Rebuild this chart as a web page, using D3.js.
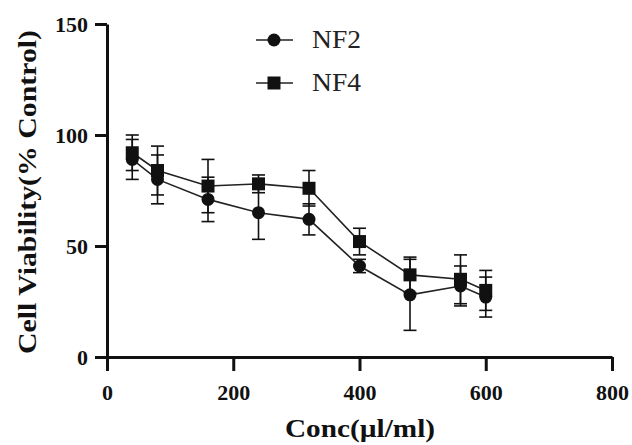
<!DOCTYPE html>
<meta charset="utf-8">
<script src="https://d3js.org/d3.v7.min.js"></script>
<style>
  body { margin: 0; background: #fff; }
  text { font-family: "Liberation Serif", "Times New Roman", serif; }
</style>
<div id="chart"></div>
<script>

// concentrations (µl/ml)
var conc = [40, 80, 160, 240, 320, 400, 480, 560, 600];

// mean viability and error (% control)
var nf2 = [89, 80, 71, 65, 62, 41, 28, 32, 27];
var nf2Err = [9, 11, 10, 12, 7, 3, 16, 9, 9];
var nf4 = [92, 84, 77, 78, 76, 52, 37, 35, 30];
var nf4Err = [8, 11, 12, 4, 8, 6, 8, 11, 9];

var seriesNames = ["NF2", "NF4"];
var xTicks = [0, 200, 400, 600, 800];
var yTicks = [0, 50, 100, 150];

var W = 632, H = 445;
var margin = {top: 24, right: 20, bottom: 88, left: 107};

var svg = d3.select("#chart")
  .append("svg")
    .attr("width", W)
    .attr("height", H);

var x = d3.scaleLinear()
  .domain([0, 800])
  .range([margin.left, 612]);

var y = d3.scaleLinear()
  .domain([0, 150])
  .range([357, margin.top]);

// axes
var xAxis = svg.append("g")
  .attr("transform", "translate(0," + y(0) + ")")
  .call(d3.axisBottom(x).tickValues(xTicks).tickSize(14).tickPadding(13).tickSizeOuter(0));

var yAxis = svg.append("g")
  .attr("transform", "translate(" + x(0) + ",0)")
  .call(d3.axisLeft(y).tickValues(yTicks).tickSize(12).tickPadding(7).tickSizeOuter(0));

[xAxis, yAxis].forEach(function(g) {
  g.select(".domain").attr("stroke", "#111").attr("stroke-width", 3);
  g.selectAll(".tick line").attr("stroke", "#111").attr("stroke-width", 3);
  g.selectAll(".tick text")
    .attr("fill", "#111")
    .style("font-size", "22px")
    .style("font-weight", "bold")
    .style("font-family", "'Liberation Serif', serif");
});

// axis titles
svg.append("text")
  .attr("x", 360)
  .attr("y", 437)
  .attr("text-anchor", "middle")
  .attr("fill", "#111")
  .attr("textLength", 150)
  .attr("lengthAdjust", "spacingAndGlyphs")
  .style("font-size", "25px")
  .style("font-weight", "bold")
  .text("Conc(\u00b5l/ml)");

svg.append("text")
  .attr("transform", "translate(36,192) rotate(-90)")
  .attr("text-anchor", "middle")
  .attr("fill", "#111")
  .attr("textLength", 324)
  .attr("lengthAdjust", "spacingAndGlyphs")
  .style("font-size", "26px")
  .style("font-weight", "bold")
  .text("Cell Viability(% Control)");

var series = [
  {name: seriesNames[0], mean: nf2, err: nf2Err, shape: "circle"},
  {name: seriesNames[1], mean: nf4, err: nf4Err, shape: "square"}
];

var line = d3.line()
  .x(function(d) { return x(d.c); })
  .y(function(d) { return y(d.v); });

function drawMarker(g, shape, cx, cy) {
  if (shape == "circle") {
    g.append("circle").attr("cx", cx).attr("cy", cy).attr("r", 6.5).attr("fill", "#111");
  } else {
    g.append("rect").attr("x", cx - 6.5).attr("y", cy - 6.5)
      .attr("width", 13).attr("height", 13).attr("fill", "#111");
  }
}

series.forEach(function(s) {
  var pts = conc.map(function(c, i) { return {c: c, v: s.mean[i], e: s.err[i]}; });
  var g = svg.append("g");

  // error bars
  pts.forEach(function(p) {
    var cx = x(p.c);
    g.append("line")
      .attr("x1", cx).attr("x2", cx)
      .attr("y1", y(p.v + p.e)).attr("y2", y(p.v - p.e))
      .attr("stroke", "#111").attr("stroke-width", 1.6);
    [p.v + p.e, p.v - p.e].forEach(function(v) {
      g.append("line")
        .attr("x1", cx - 6.5).attr("x2", cx + 6.5)
        .attr("y1", y(v)).attr("y2", y(v))
        .attr("stroke", "#111").attr("stroke-width", 1.6);
    });
  });

  g.append("path")
    .datum(pts)
    .attr("fill", "none")
    .attr("stroke", "#222")
    .attr("stroke-width", 1.6)
    .attr("d", line);

  pts.forEach(function(p) { drawMarker(g, s.shape, x(p.c), y(p.v)); });
});

// legend
var legend = svg.append("g");
series.forEach(function(s, i) {
  var ly = 40 + i * 43;
  legend.append("line")
    .attr("x1", 256).attr("x2", 293)
    .attr("y1", ly).attr("y2", ly)
    .attr("stroke", "#222").attr("stroke-width", 1.6);
  drawMarker(legend, s.shape, 274, ly);
  legend.append("text")
    .attr("x", 312)
    .attr("y", ly + 8)
    .attr("fill", "#222")
    .attr("textLength", 49)
    .attr("lengthAdjust", "spacingAndGlyphs")
    .style("font-size", "25px")
    .text(s.name);
});

</script>
